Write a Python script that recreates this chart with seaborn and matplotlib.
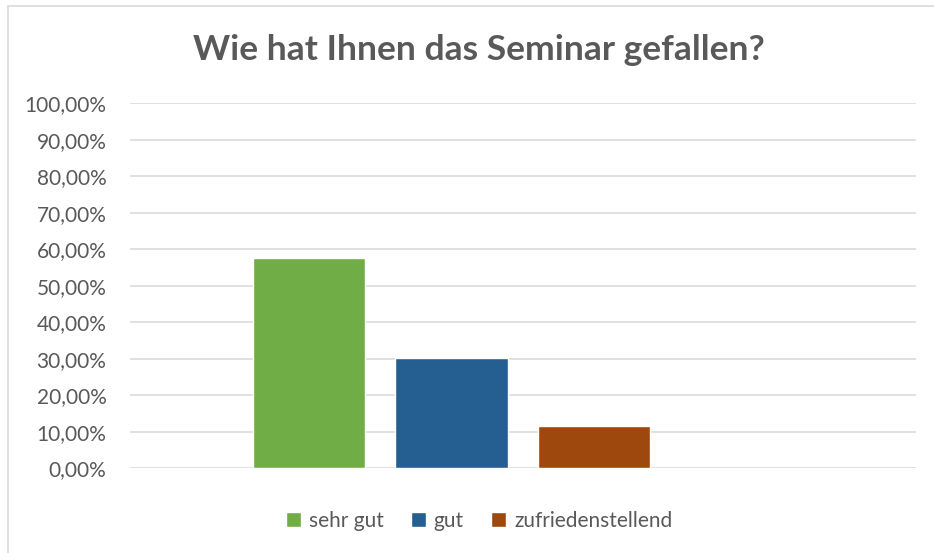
import matplotlib
matplotlib.use("Agg")
import matplotlib.pyplot as plt
import matplotlib.patches as mpatches
from matplotlib.ticker import FuncFormatter, MultipleLocator
import pandas as pd
import seaborn as sns

# Daten aus der Umfrage
categories = ["sehr gut", "gut", "zufriedenstellend"]
shares = [57.6, 30.3, 11.7]
colors = ["#70ad47", "#255e91", "#9e480e"]

title = "Wie hat Ihnen das Seminar gefallen?"
text_grey = "#595959"
grid_grey = "#d9d9d9"

sns.set_theme(style="white")
plt.rcParams["font.family"] = ["Lato", "DejaVu Sans"]

df = pd.DataFrame({"Bewertung": categories, "Anteil": shares})

fig = plt.figure(figsize=(9.34, 5.53), dpi=100)
ax = fig.add_axes([0.1392, 0.1532, 0.8415, 0.66])

sns.barplot(data=df, x="Bewertung", y="Anteil", hue="Bewertung",
            palette=colors, order=categories, hue_order=categories,
            width=0.79, saturation=1, legend=True, ax=ax, zorder=3)

ax.set_ylim(0, 100)
ax.set_xlim(-1.256, 4.26)
ax.yaxis.set_major_locator(MultipleLocator(10))
ax.yaxis.set_major_formatter(FuncFormatter(lambda v, p: f"{v:.2f}%".replace(".", ",")))
ax.grid(axis="y", color=grid_grey, linewidth=1.1, zorder=0)
ax.set_axisbelow(True)
for s in ax.spines.values():
    s.set_visible(False)
ax.set_xticks([])
ax.set_xlabel("")
ax.set_ylabel("")
ax.tick_params(axis="y", length=0, pad=17, labelsize=15, labelcolor=text_grey)

# Legende unten
handles, labels = ax.get_legend_handles_labels()
ax.legend_.remove()
fig.legend(handles, labels, loc="center", bbox_to_anchor=(0.513, 0.058), ncol=3,
           frameon=False, fontsize=15, labelcolor=text_grey,
           handlelength=0.7, handleheight=0.7, handletextpad=0.4, columnspacing=1.3)

fig.text(0.513, 1 - 50 / 553, title, ha="center", va="center",
         fontsize=25.5, fontweight="bold", color=text_grey)

# Rahmen des Diagrammbereichs
fig.patches.append(mpatches.Rectangle((8 / 934, -0.05), 1.1, 1 - 6 / 553 + 0.05,
                                      transform=fig.transFigure, fill=False,
                                      edgecolor=grid_grey, linewidth=1.2))

fig.savefig("out.png", dpi=100)
